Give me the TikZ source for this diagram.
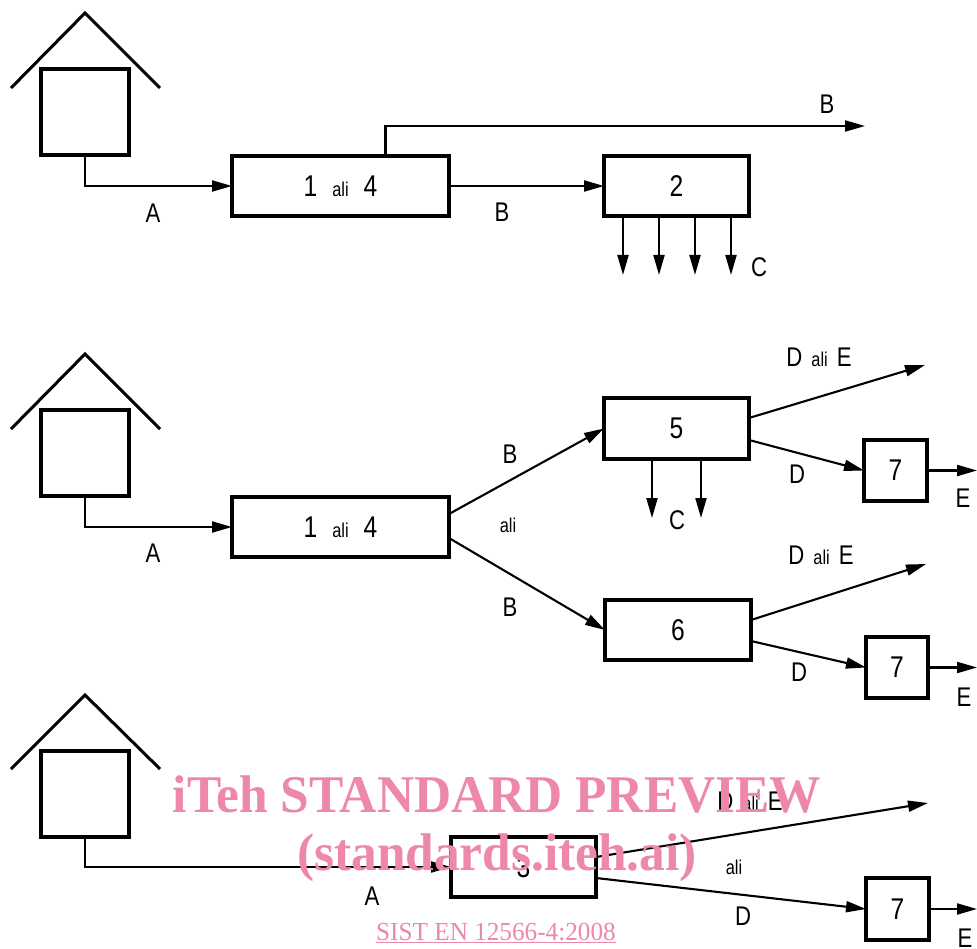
\documentclass[tikz,border=0pt]{standalone}
\usepackage{fontspec}
\setmainfont{Liberation Sans}[FakeStretch=0.82]
\newfontfamily\wmfont{Liberation Serif}[FakeStretch=0.97]
\usetikzlibrary{arrows.meta,calc}
\definecolor{wm}{RGB}{238,136,168}
\newcommand\aliword{{\fontsize{20}{21}\selectfont ali}}
\newcommand\dalie{D\hspace{9pt}\aliword\hspace{9pt}E}
\begin{document}
\begin{tikzpicture}[x=1pt,y=-1pt,
  box/.style={draw,line width=3.2pt,inner sep=0pt,outer sep=0pt,font=\fontsize{30}{31}\selectfont},
  house/.style={draw,line width=3.2pt,minimum width=88pt,minimum height=86pt,inner sep=0pt,outer sep=0pt},
  roof/.style={line width=3pt},
  conn/.style={line width=2.1pt,-{Triangle[length=20pt,width=11pt]}},
  lab/.style={inner sep=0pt,font=\fontsize{27}{28}\selectfont},
  alilab/.style={inner sep=0pt,font=\fontsize{20}{21}\selectfont},
  wmtext/.style={text=wm,inner sep=0pt,font=\wmfont\bfseries\fontsize{53}{56}\selectfont},
  wmsmall/.style={text=wm,inner sep=0pt,font=\wmfont\fontsize{26}{28}\selectfont}
]
\useasboundingbox (0,0) rectangle (977,949);
\fill[white] (0,0) rectangle (977,949);

% ---------- top row ----------
\node[house] (h1) at (85,112) {};
\draw[roof] (11,88) -- (85,13) -- (160,88);
\node[box,minimum width=217pt,minimum height=60pt] (b1) at (340.5,186) {1\hspace{15pt}\aliword\hspace{15pt}4};
\node[box,minimum width=145pt,minimum height=60pt] (b2) at (676.5,186) {2};
\coordinate (tB) at (865,126);
\draw[conn] (h1.south) |- (b1.west);
\draw[conn] ([xshift=153.5pt]b1.north west) |- (tB);
\draw[conn] (b1.east) -- (b2.west);
\foreach \dx/\nm in {19/ca,55/cb,91/cc,127/cd}{
  \coordinate (\nm) at ($(b2.south west)+(\dx,59)$);
  \draw[conn] ([xshift=\dx pt]b2.south west) -- (\nm);
}
\node[lab] (lA1) at (153,213) {A};
\node[lab] (lB1) at (502,212) {B};
\node[lab] (lB2) at (827,104) {B};
\node[lab] (lC1) at (759,267) {C};

% ---------- middle row ----------
\node[house] (h2) at (85,453) {};
\draw[roof] (11,429) -- (85,354) -- (160,429);
\node[box,minimum width=217pt,minimum height=60pt] (b3) at (340.5,527) {1\hspace{15pt}\aliword\hspace{15pt}4};
\node[box,minimum width=145pt,minimum height=61pt] (b5) at (676.5,428.5) {5};
\node[box,minimum width=146pt,minimum height=60pt] (b6) at (678,630) {6};
\node[box,minimum width=63pt,minimum height=61pt] (b7a) at (895.5,470.5) {7};
\node[box,minimum width=62pt,minimum height=61pt] (b7b) at (897,667.5) {7};
\draw[conn] (h2.south) |- (b3.west);
\draw[conn] ([yshift=13pt]b3.east) -- (b5.west);
\draw[conn] ([yshift=-11pt]b3.east) -- (b6.west);
\coordinate (t5) at (925,365);
\coordinate (t6) at (926,564);
\coordinate (e7a) at (977,470.5);
\coordinate (e7b) at (977,667.5);
\draw[conn] ([yshift=10.5pt]b5.east) -- (t5);
\draw[conn] ([yshift=-11.5pt]b5.east) -- (b7a.west);
\draw[conn] ([yshift=10pt]b6.east) -- (t6);
\draw[conn] ([yshift=-11pt]b6.east) -- (b7b.west);
\draw[conn] (b7a.east) -- (e7a);
\draw[conn] (b7b.east) -- (e7b);
\coordinate (c5a) at ($(b5.south west)+(48,59)$);
\coordinate (c5b) at ($(b5.south west)+(97,59)$);
\draw[conn] ([xshift=48pt]b5.south west) -- (c5a);
\draw[conn] ([xshift=97pt]b5.south west) -- (c5b);
\node[lab] (lA2) at (153,553) {A};
\node[lab] (lB3) at (510,454) {B};
\node[alilab] (lali1) at (508,525) {ali};
\node[lab] (lB4) at (510,607) {B};
\node[lab] (lC2) at (677,520) {C};
\node[lab] (lDE1) at (819,357) {\dalie};
\node[lab] (lD1) at (797,474) {D};
\node[lab] (lE1) at (963,498) {E};
\node[lab] (lDE2) at (821,555) {\dalie};
\node[lab] (lD2) at (799,672) {D};
\node[lab] (lE2) at (964,697) {E};

% ---------- bottom row ----------
\node[house] (h3) at (85,794) {};
\draw[roof] (11,769) -- (85,695) -- (160,769);
\node[box,minimum width=145pt,minimum height=60pt] (b8) at (523.5,867) {3};
\node[box,minimum width=63pt,minimum height=62pt] (b7c) at (897.5,909) {7};
\draw[conn] (h3.south) |- (b8.west);
\coordinate (t8) at (928,803);
\coordinate (e7c) at (977,909);
\draw[conn] ([yshift=10pt]b8.east) -- (t8);
\draw[conn] ([yshift=-11pt]b8.east) -- (b7c.west);
\draw[conn] (b7c.east) -- (e7c);
\node[lab] (lA3) at (372,896) {A};
\node[lab] (lDE3) at (750,801) {\dalie};
\node[alilab] (lali2) at (734,867) {ali};
\node[lab] (lD3) at (743,916) {D};
\node[lab] (lE3) at (965,938) {E};

% ---------- watermark ----------
\node[wmtext,anchor=base] (wm1) at (497,812) {iTeh STANDARD PREVIEW};
\node[wmtext,anchor=base] (wm2) at (497,870) {(standards.iteh.ai)};
\node[wmsmall,anchor=base] (wm3) at (496,940) {\underline{SIST EN 12566-4:2008}};
\end{tikzpicture}
\end{document}
